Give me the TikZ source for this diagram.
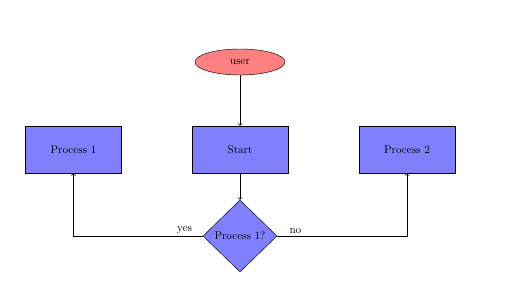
\documentclass[tikz,border=0pt]{standalone}
\usetikzlibrary{shapes.geometric}

\tikzset{
  startstop/.style={ellipse, draw, fill=red!50, minimum width=81pt, minimum height=23.4pt, inner sep=0pt},
  procbox/.style={rectangle, draw, fill=blue!50, minimum width=86.4pt, minimum height=42.3pt},
  decision/.style={diamond, draw, fill=blue!50, minimum width=66.6pt, minimum height=64.8pt, inner sep=0pt},
  flow/.style={->, semithick}
}

\begin{document}
\begin{tikzpicture}[x=0.9pt, y=-0.9pt]
  \useasboundingbox (0,0) rectangle (520,305);
  % Nodes: entry, main step, the two outcomes and the test.
  \node[startstop] (user)  at (240,62)    {user};
  \node[procbox]   (start) at (240,149.5) {Start};
  \node[procbox]   (proc1) at (73.5,149.5) {Process 1};
  \node[procbox]   (proc2) at (407,149.5) {Process 2};
  \node[decision]  (dec)   at (240,236)   {Process 1?};
  % Connectors.
  \draw[flow] (user) -- (start);
  \draw[flow] (start) -- (dec);
  \draw[flow] (dec.west) -| node[pos=0.07, above, inner sep=2pt] {yes} (proc1.south);
  \draw[flow] (dec.east) -| node[pos=0.07, above, inner sep=2pt] {no} (proc2.south);
\end{tikzpicture}
\end{document}
